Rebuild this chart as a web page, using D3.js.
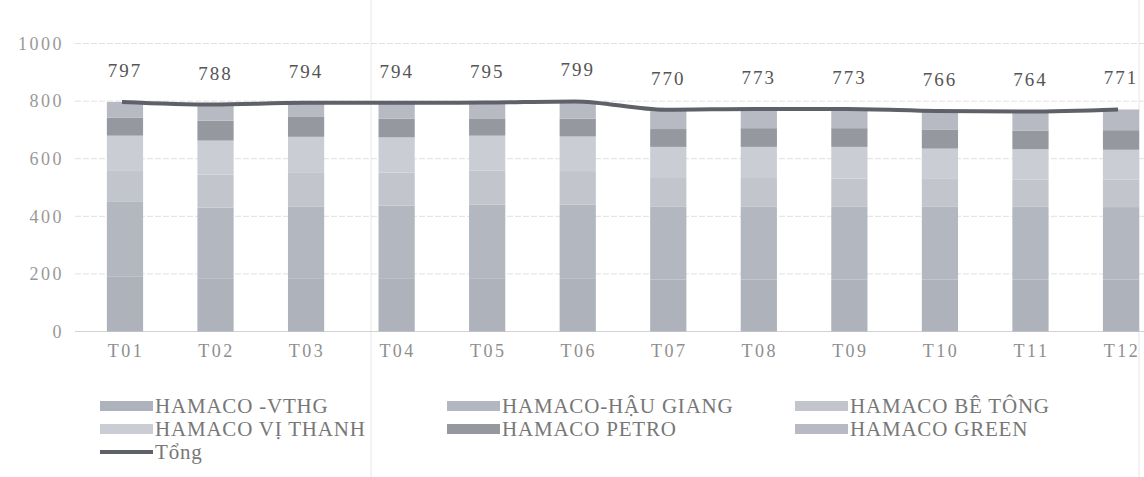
<!DOCTYPE html>
<html><head><meta charset="utf-8">
<script src="https://cdn.jsdelivr.net/npm/d3@7"></script>
<style>
html,body{margin:0;padding:0;background:#fff;}
svg{display:block;font-family:"Liberation Serif","DejaVu Serif",serif;}
</style></head>
<body>
<svg id="c" width="1144" height="477"></svg>
<script>
const categories = ["T01","T02","T03","T04","T05","T06","T07","T08","T09","T10","T11","T12"];
const seriesNames = ["HAMACO -VTHG","HAMACO-HẬU GIANG","HAMACO BÊ TÔNG","HAMACO VỊ THANH","HAMACO PETRO","HAMACO GREEN"];
const vthg      = [190,185,185,185,185,185,180,180,180,180,180,180];
const hauGiang  = [260,245,248,252,255,255,253,253,253,253,253,252];
const beTong    = [110,115,120,115,118,117,100,100, 98, 97, 95, 95];
const viThanh   = [120,118,123,122,122,120,108,108,110,105,105,104];
const petro     = [ 62, 69, 69, 65, 60, 62, 62, 65, 65, 65, 65, 68];
const green     = [ 55, 56, 49, 55, 55, 60, 67, 67, 67, 66, 66, 72];
const tong      = [797,788,794,794,795,799,770,773,773,766,764,771];
const yTicks    = [0,200,400,600,800,1000];
const totalName = "Tổng";

const colors = ["#aeb2bb","#b3b7c0","#c2c5cc","#cacdd4","#95989f","#b7bac2"];
const seriesData = [vthg,hauGiang,beTong,viThanh,petro,green];
const FONT = "Liberation Serif";

const svg = d3.select("#c");
const x = d3.scaleBand().domain(categories).range([79.7,1166.3]).paddingInner(0.6).paddingOuter(0.3);
const y = d3.scaleLinear().domain([0,1000]).range([331.5,43.5]);

// faint scan artifacts: vertical fold lines
svg.append("line").attr("x1",371).attr("x2",371).attr("y1",0).attr("y2",477).attr("stroke","#e6e6e6").attr("stroke-width",1);
svg.append("line").attr("x1",1139).attr("x2",1139).attr("y1",0).attr("y2",477).attr("stroke","#e6e6e6").attr("stroke-width",1);

// gridlines
svg.append("g").selectAll("line").data(yTicks).join("line")
  .attr("x1",75).attr("x2",1144)
  .attr("y1",d=>y(d)).attr("y2",d=>y(d))
  .attr("stroke",d=>d===0?"#d2d2d2":"#e0e0e0").attr("stroke-width",1)
  .attr("stroke-dasharray",d=>d===0?null:"6,2");

// y axis labels
const yAxis = d3.axisLeft(y).tickValues(yTicks).tickFormat(d3.format("d")).tickSize(0).tickPadding(0);
const ya = svg.append("g").attr("transform","translate(64,0)").call(yAxis);
ya.select(".domain").remove();
ya.selectAll("text").attr("fill","#999").attr("font-size","18px").attr("font-family",FONT).attr("letter-spacing","2.5px");

// stacked bars
const rows = categories.map((c,i)=>{const o={cat:c}; seriesNames.forEach((s,j)=>o[s]=seriesData[j][i]); return o;});
const stack = d3.stack().keys(seriesNames)(rows);
svg.append("g").selectAll("g").data(stack).join("g")
  .attr("fill",(d,i)=>colors[i])
  .selectAll("rect").data(d=>d).join("rect")
  .attr("x",d=>x(d.data.cat)).attr("width",x.bandwidth())
  .attr("y",d=>y(d[1])).attr("height",d=>y(d[0])-y(d[1]));

// total line
const line = d3.line().x((d,i)=>x(categories[i])+x.bandwidth()/2-3).y(d=>y(d)).curve(d3.curveMonotoneX);
svg.append("path").datum(tong).attr("d",line).attr("fill","none").attr("stroke","#5e6167").attr("stroke-width",4);

// total labels
svg.append("g").selectAll("text").data(tong).join("text")
  .attr("x",(d,i)=>x(categories[i])+x.bandwidth()/2)
  .attr("y",d=>y(d)-25)
  .attr("text-anchor","middle").attr("font-size","19px").attr("fill","#555").attr("font-family",FONT)
  .attr("letter-spacing","2px")
  .text(d=>d);

// x axis labels
const xAxis = d3.axisBottom(x).tickSize(0).tickPadding(0);
const xa = svg.append("g").attr("transform","translate(1,344)").call(xAxis);
xa.select(".domain").remove();
xa.selectAll("text").attr("fill","#8e8e8e").attr("font-size","18px").attr("font-family",FONT).attr("letter-spacing","2.5px");

// legend
const legendItems = [
  {name:seriesNames[0],col:0,row:0,c:colors[0]},
  {name:seriesNames[1],col:1,row:0,c:colors[1]},
  {name:seriesNames[2],col:2,row:0,c:colors[2]},
  {name:seriesNames[3],col:0,row:1,c:colors[3]},
  {name:seriesNames[4],col:1,row:1,c:colors[4]},
  {name:seriesNames[5],col:2,row:1,c:colors[5]},
  {name:totalName,col:0,row:2,c:"#5e6167",line:true}
];
const colX=[100,447,795], rowY=[406,429,452];
const lg = svg.append("g").selectAll("g").data(legendItems).join("g")
  .attr("transform",d=>`translate(${colX[d.col]},${rowY[d.row]})`);
lg.append("rect").attr("x",0).attr("width",53)
  .attr("y",d=>d.line?-2:-5).attr("height",d=>d.line?4:10).attr("fill",d=>d.c);
lg.append("text").attr("x",55).attr("y",7).attr("font-size","21px").attr("fill","#777").attr("font-family",FONT)
  .attr("letter-spacing","0.8px")
  .text(d=>d.name);
</script>
</body></html>
